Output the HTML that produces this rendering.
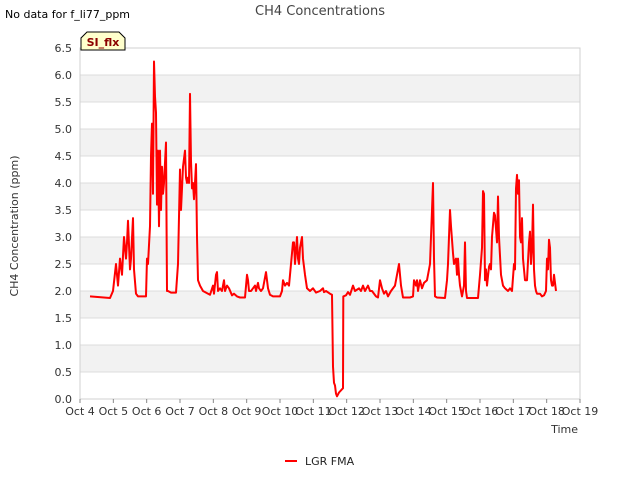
<!DOCTYPE html>
<html><head><meta charset="utf-8"><style>
body{margin:0;background:#fff;font-family:"Liberation Sans","DejaVu Sans",sans-serif}
svg text{font-family:"DejaVu Sans","Liberation Sans",sans-serif}
</style></head><body>
<svg id="c" width="640" height="480" viewBox="0 0 640 480" xmlns="http://www.w3.org/2000/svg">
<text x="5" y="18" font-size="11" fill="#000">No data for f_li77_ppm</text>
<text x="320" y="15" font-size="13" fill="#444" text-anchor="middle">CH4 Concentrations</text>
<g id="plot"></g>
<text transform="translate(18,226) rotate(-90)" font-size="11" fill="#333" text-anchor="middle">CH4 Concentration (ppm)</text>
<text x="578" y="433" font-size="11" fill="#333" text-anchor="end">Time</text>
<g>
<line x1="285" y1="461" x2="297" y2="461" stroke="#ff0000" stroke-width="2"/>
<text x="305" y="465" font-size="11" fill="#222">LGR FMA</text>
</g>
<g>
<path d="M81,50 L81,38 L87,32 L119,32 L125,38 L125,50 Z" fill="#ffffcc" stroke="#000" stroke-width="1"/>
<text x="103" y="46" font-size="11" font-weight="bold" fill="#8b0000" text-anchor="middle">SI_flx</text>
</g>
</svg>
<script>
const yTicks=[0,0.5,1,1.5,2,2.5,3,3.5,4,4.5,5,5.5,6,6.5];
const xTickLabels=["Oct 4","Oct 5","Oct 6","Oct 7","Oct 8","Oct 9","Oct 10","Oct 11","Oct 12","Oct 13","Oct 14","Oct 15","Oct 16","Oct 17","Oct 18","Oct 19"];
const days=[0.3,0.9,0.99,1.08,1.14,1.2,1.26,1.32,1.38,1.41,1.44,1.5,1.53,1.59,1.62,1.68,1.74,1.98,2.01,2.04,2.1,2.13,2.16,2.19,2.22,2.25,2.28,2.31,2.34,2.37,2.4,2.43,2.46,2.49,2.52,2.58,2.61,2.64,2.73,2.88,2.94,3.0,3.03,3.09,3.15,3.18,3.21,3.24,3.27,3.3,3.33,3.36,3.39,3.42,3.45,3.48,3.51,3.54,3.6,3.69,3.78,3.9,3.99,4.02,4.08,4.11,4.14,4.2,4.26,4.32,4.35,4.41,4.47,4.56,4.62,4.71,4.8,4.95,5.01,5.04,5.07,5.13,5.19,5.25,5.28,5.34,5.37,5.43,5.49,5.55,5.58,5.61,5.64,5.7,5.79,6.0,6.06,6.09,6.15,6.21,6.27,6.33,6.39,6.42,6.45,6.51,6.54,6.57,6.6,6.66,6.69,6.75,6.81,6.9,6.99,7.08,7.2,7.29,7.32,7.38,7.5,7.56,7.59,7.62,7.65,7.68,7.71,7.77,7.89,7.9,7.98,8.04,8.1,8.19,8.25,8.37,8.43,8.49,8.55,8.64,8.7,8.76,8.88,8.94,9.0,9.06,9.12,9.18,9.24,9.33,9.45,9.51,9.57,9.63,9.69,9.9,9.99,10.02,10.08,10.11,10.14,10.2,10.26,10.32,10.41,10.44,10.5,10.56,10.59,10.62,10.65,10.71,10.95,11.01,11.04,11.1,11.13,11.19,11.22,11.28,11.31,11.34,11.37,11.4,11.46,11.52,11.55,11.58,11.61,11.94,12.0,12.06,12.09,12.12,12.15,12.18,12.21,12.27,12.3,12.33,12.36,12.42,12.45,12.51,12.54,12.57,12.63,12.69,12.75,12.84,12.9,12.96,13.02,13.05,13.08,13.11,13.14,13.17,13.2,13.23,13.26,13.29,13.35,13.41,13.47,13.5,13.53,13.56,13.59,13.62,13.65,13.68,13.71,13.8,13.86,13.92,13.98,14.01,14.04,14.07,14.1,14.13,14.16,14.19,14.22,14.28];
const ch4=[1.9,1.87,2.0,2.5,2.1,2.6,2.3,3.0,2.6,2.9,3.3,2.4,2.6,3.35,2.4,1.95,1.9,1.9,2.6,2.5,3.2,4.5,5.1,3.8,6.25,5.6,5.3,3.6,4.6,3.2,4.6,3.5,4.3,3.8,4.0,4.75,2.0,2.0,1.97,1.97,2.5,4.25,3.5,4.3,4.6,4.1,4.0,4.1,4.0,5.65,4.4,3.9,4.0,3.7,4.0,4.35,3.0,2.2,2.1,2.0,1.97,1.93,2.1,1.95,2.3,2.35,2.0,2.05,2.0,2.2,2.0,2.1,2.05,1.92,1.95,1.9,1.88,1.88,2.3,2.2,2.0,2.0,2.05,2.1,2.0,2.15,2.05,2.0,2.05,2.25,2.35,2.2,2.05,1.93,1.9,1.9,2.0,2.2,2.1,2.15,2.1,2.5,2.9,2.9,2.5,3.0,2.6,2.5,2.8,3.0,2.6,2.3,2.05,2.0,2.05,1.97,2.0,2.05,1.98,2.0,1.95,1.93,0.6,0.3,0.25,0.1,0.05,0.12,0.2,1.9,1.92,1.98,1.93,2.1,2.0,2.05,2.0,2.1,2.0,2.1,2.0,2.0,1.9,1.88,2.2,2.05,1.95,2.0,1.9,2.0,2.1,2.3,2.5,2.1,1.88,1.88,1.9,2.2,2.1,2.2,2.0,2.2,2.05,2.15,2.2,2.3,2.5,3.5,4.0,2.6,1.9,1.88,1.87,2.2,2.5,3.5,3.2,2.7,2.5,2.6,2.3,2.6,2.3,2.1,1.9,2.1,2.9,2.0,1.87,1.87,2.3,2.8,3.85,3.8,2.2,2.4,2.1,2.45,2.5,2.4,3.0,3.45,3.4,2.9,3.75,3.0,2.3,2.1,2.05,2.0,2.05,2.0,2.5,2.4,3.9,4.15,3.8,4.05,3.0,2.9,3.35,2.6,2.2,2.2,2.9,3.1,2.5,2.8,3.6,2.4,2.1,2.0,1.95,1.95,1.9,1.92,2.0,2.6,2.4,2.95,2.8,2.2,2.1,2.1,2.3,2.0];
const NS='http://www.w3.org/2000/svg';
const L=80,R=580,T=48,B=399,yMax=6.5,xMax=15;
const xs=d=>L+d*(R-L)/xMax;
const ys=v=>B-v*(B-T)/yMax;
const g=document.getElementById('plot');
function mk(t,a){const e=document.createElementNS(NS,t);for(const k in a)e.setAttribute(k,a[k]);g.appendChild(e);return e;}
for(let i=0;i<yTicks.length-1;i++){
  if(i%2===1){const r=mk('rect',{x:L,y:ys(yTicks[i+1]),width:R-L,height:ys(yTicks[i])-ys(yTicks[i+1]),fill:'#f2f2f2'});
  
  }
}
yTicks.forEach(v=>{
  const l=mk('line',{x1:L,x2:R,y1:ys(v),y2:ys(v),stroke:'#dcdcdc','stroke-width':1});
  
  
  const t=mk('text',{x:L-8,y:ys(v)+4,'font-size':11,fill:'#333','text-anchor':'end'});
  t.textContent=v.toFixed(1);
  
  
});
const fr=mk('rect',{x:L,y:T,width:R-L,height:B-T,fill:'none',stroke:'#d0d0d0'});


xTickLabels.forEach((s,i)=>{
  const tk=mk('line',{x1:xs(i),x2:xs(i),y1:B,y2:B+4,stroke:'#888'});
  
  
  const t=mk('text',{x:xs(i),y:B+16,'font-size':11,fill:'#333','text-anchor':'middle'});
  t.textContent=s;
  
  
});
const p=mk('polyline',{points:days.map((d,i)=>xs(d).toFixed(1)+','+ys(ch4[i]).toFixed(1)).join(' '),fill:'none',stroke:'#ff0000','stroke-width':2,'stroke-linejoin':'round'});


</script>
</body></html>
